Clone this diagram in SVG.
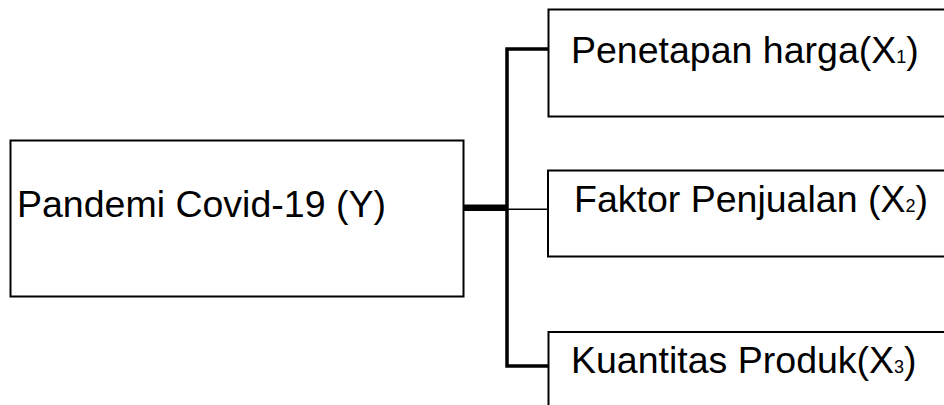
<svg xmlns="http://www.w3.org/2000/svg" width="944" height="405" viewBox="0 0 944 405">
<style>
.box{fill:#fff;stroke:#000;stroke-width:2}
.t{font-family:"Liberation Sans",Arial,sans-serif;font-size:37.5px;fill:#000}
.s{font-size:18px}
.c{stroke:#000;fill:none}
</style>
<rect width="944" height="405" fill="#fff"/>
<g id="connectors">
<path class="c" d="M549 49 H507 V366 H549" stroke-width="3.5"/>
<line class="c" x1="463" y1="207.7" x2="507" y2="207.7" stroke-width="6.5"/>
<line class="c" x1="507" y1="209.2" x2="549" y2="209.2" stroke-width="1.5"/>
</g>
<g id="node-y">
<rect class="box" x="10.5" y="140.5" width="453" height="156"/>
<text class="t" x="17" y="217">Pandemi Covid-19 (Y)</text>
</g>
<g id="node-x1">
<rect class="box" x="548.5" y="9.5" width="500" height="107"/>
<text class="t" x="571" y="63">Penetapan harga(X<tspan class="s">1</tspan>)</text>
</g>
<g id="node-x2">
<rect class="box" x="548" y="170.5" width="500" height="86"/>
<text class="t" x="574" y="212">Faktor Penjualan (X<tspan class="s">2</tspan>)</text>
</g>
<g id="node-x3">
<rect class="box" x="548.5" y="332" width="500" height="200"/>
<text class="t" x="571" y="373">Kuantitas Produk(X<tspan class="s">3</tspan>)</text>
</g>
</svg>
